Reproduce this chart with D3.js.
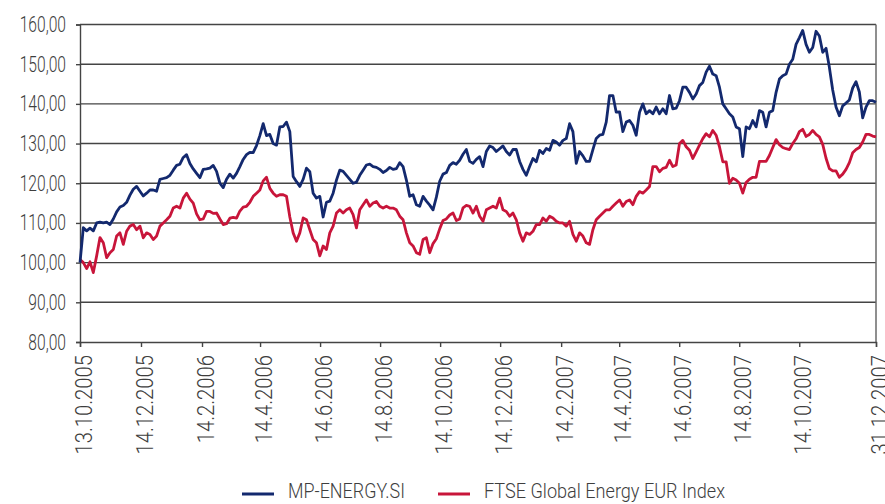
<!DOCTYPE html>
<html>
<head>
<meta charset="utf-8">
<script src="https://cdn.jsdelivr.net/npm/d3@7"></script>
<style>
  html, body { margin: 0; padding: 0; background: #fff; }
  svg { display: block; }
  text { font-family: Roboto, "Liberation Sans", sans-serif; font-weight: 300; fill: #3e3e3e; }
</style>
</head>
<body>
<svg id="chart" width="885" height="504"></svg>
<script>
const mpEnergy = [
  100, 108.8, 108, 108.7, 108, 110, 110.2, 110, 110.2, 109.6,
  111, 112.8, 114, 114.4, 115.2, 117, 118.5, 119.2, 118, 116.8,
  117.5, 118.3, 118.3, 118, 121, 121.2, 121.4, 122, 123.3, 124.5,
  124.8, 126.5, 127.2, 125, 123.6, 122.5, 121.4, 123.5, 123.6, 123.8,
  124.5, 123, 120, 118.9, 121, 122.3, 121.3, 122.5, 124.2, 126,
  127.2, 127.8, 127.7, 129.5, 132, 135, 132, 132.3, 130, 129.6,
  134.2, 134.3, 135.4, 133, 121.7, 120.4, 119.2, 121, 123.8, 122.9,
  117.5, 116.25, 116.7, 111.5, 115.2, 115.5, 117.5, 120.8, 123.3, 123,
  122, 121, 120, 120.3, 122, 123.3, 124.6, 124.8, 124.2, 124,
  123.5, 122.7, 123.2, 124, 123.5, 123.7, 125.2, 124.2, 120.8, 116.7,
  117.1, 114.6, 114.2, 116.7, 115.5, 114.5, 113.3, 116.5, 120.5, 122.3,
  122.7, 124.5, 125.2, 124.8, 125.8, 127.3, 128.5, 125.5, 125, 126,
  126.7, 124.2, 128, 129.4, 129, 128, 128.7, 129.4, 128, 127.1,
  128.5, 128.5, 125.5, 123.5, 122, 124.2, 126.25, 125.4, 128.3, 127.5,
  128.75, 128.3, 130.8, 130.4, 129.6, 130.8, 131.25, 135, 133, 125,
  128, 126.9, 125.5, 125.5, 128.5, 131.3, 132.1, 132.3, 135.4, 142.1,
  142.1, 137.9, 138, 133, 135.4, 135.8, 134.6, 132.1, 137.9, 140,
  137.5, 138.3, 137.5, 139.2, 137.5, 138.75, 137.5, 142.1, 138.75, 138.9,
  140.8, 144.2, 144.2, 142.9, 141.25, 142.5, 144.6, 145.4, 148, 149.5,
  147.5, 147.1, 144.2, 140, 138.75, 137.5, 136.7, 134.2, 133.75, 126.7,
  134.2, 133.75, 135.8, 134.2, 138.3, 137.9, 134.2, 137.9, 138.3, 142.9,
  146.25, 147.1, 147.5, 150, 151.25, 155, 156.7, 158.5, 155, 153,
  154.2, 158.3, 157.1, 153, 154, 149.2, 143.5, 139.2, 137, 139.5,
  140.2, 141, 144, 145.6, 143, 136.5, 139.2, 140.8, 140.8, 140.4
];

const ftseEnergy = [
  100.8, 100, 98.5, 100.2, 97.5, 101.7, 106.3, 105, 101.25, 102.5,
  103.3, 106.7, 107.5, 104.6, 107.9, 109.2, 109.6, 108.3, 109.2, 106.25,
  107.5, 107.1, 105.8, 106.7, 109.2, 110, 110.8, 111.7, 113.75, 114.2,
  113.75, 116.25, 117.5, 116, 115, 112.3, 110.8, 111, 112.9, 112.9,
  112.4, 112.5, 111, 109.6, 109.8, 111.2, 111.4, 111.2, 113, 114,
  114.2, 115.2, 116.7, 117.5, 118.3, 120.6, 121.5, 118.7, 117.5, 116.7,
  117.1, 117.1, 116.7, 111.5, 107.5, 105.4, 107.5, 111.25, 110.8, 108.3,
  105.8, 105, 101.7, 104.2, 103.3, 107.5, 109.2, 112.5, 113.3, 112.5,
  113.3, 113.75, 112.1, 108.75, 113.3, 114.6, 115.8, 114.2, 115, 115.4,
  114.2, 113.75, 114.2, 113.75, 113.75, 113.3, 111.7, 110.8, 107.5, 105,
  104.2, 102.5, 102.1, 105.8, 106.25, 102.5, 104.8, 106, 108.5, 110.6,
  111, 112, 112.5, 110.6, 111, 113.8, 114.4, 114.2, 112.5, 114.2,
  111.7, 110.4, 113.3, 113.75, 114.2, 113.75, 116.25, 113.3, 112.9, 111.7,
  112.5, 110.8, 107.5, 105.4, 107.5, 107.1, 107.9, 109.6, 109.6, 111.25,
  110.4, 111.7, 111.25, 110.4, 110, 110, 109.2, 110.4, 107.1, 105.4,
  107.5, 106.7, 105, 104.6, 108.3, 110.8, 111.7, 112.5, 113.3, 113.3,
  114.2, 115, 115.8, 114.2, 115.4, 115.8, 114.6, 116.7, 117.9, 117.5,
  118.3, 119.2, 124.2, 124.2, 122.9, 123.75, 124, 125.8, 124.2, 124.6,
  130, 130.8, 129.2, 128.3, 126.25, 127.9, 129.6, 131.25, 132.5, 131.7,
  133.3, 132.1, 129.2, 125.4, 125.4, 120, 121.25, 120.8, 120, 117.5,
  120.2, 121, 121.5, 121.5, 125.5, 125.5, 125.5, 127, 129, 131,
  129.7, 129, 128.7, 128.5, 130, 131.2, 133, 133.6, 131.8, 132.3,
  133.3, 132.3, 131.7, 129.8, 126.3, 123.7, 123.1, 123.1, 121.5, 122.3,
  123.5, 125.2, 127.7, 128.5, 129, 130.4, 132.3, 132.3, 131.9, 131.7
];

const seriesNames = ["MP-ENERGY.SI", "FTSE Global Energy EUR Index"];
const seriesColors = ["#13296e", "#c8153a"];

const xTickLabels = [
  "13.10.2005", "14.12.2005", "14.2.2006", "14.4.2006", "14.6.2006",
  "14.8.2006", "14.10.2006", "14.12.2006", "14.2.2007", "14.4.2007",
  "14.6.2007", "14.8.2007", "14.10.2007", "31.12.2007"
];
const yTicks = [80, 90, 100, 110, 120, 130, 140, 150, 160];

const parseDay = d3.timeParse("%d.%m.%Y");
const startDate = parseDay("13.10.2005");
const endDate = parseDay("31.12.2007");

const n = mpEnergy.length;
const dates = d3.range(n).map(i => new Date(+startDate + (endDate - startDate) * i / (n - 1)));

const margin = {left: 80, right: 9, top: 24.5, bottom: 162};
const width = 885, height = 504;

const svg = d3.select("#chart");

const x = d3.scaleTime()
  .domain([startDate, endDate])
  .range([margin.left, width - margin.right]);

const y = d3.scaleLinear()
  .domain([80, 160])
  .range([height - margin.bottom, margin.top]);

const fmt = v => d3.format(".2f")(v).replace(".", ",");

// squeeze text horizontally (the reference uses a condensed face)
function squeeze(sel, k) {
  sel.attr("lengthAdjust", "spacingAndGlyphs")
    .attr("textLength", function() { return this.getComputedTextLength() * k; });
}

// gridlines
svg.append("g")
  .selectAll("line")
  .data(yTicks.filter(d => d > 80))
  .enter()
  .append("line")
  .attr("x1", x.range()[0])
  .attr("x2", x.range()[1])
  .attr("y1", d => y(d))
  .attr("y2", d => y(d))
  .attr("stroke", "#444")
  .attr("stroke-width", 1.4);

// right border
svg.append("line")
  .attr("x1", x.range()[1]).attr("x2", x.range()[1])
  .attr("y1", y(160)).attr("y2", y(80))
  .attr("stroke", "#6a6a6a")
  .attr("stroke-width", 1.5);

// y axis
const yAxis = svg.append("g")
  .attr("transform", `translate(${margin.left},0)`)
  .call(d3.axisLeft(y).tickValues(yTicks).tickFormat(fmt).tickSize(4).tickPadding(10));
yAxis.select(".domain").attr("stroke", "#444").attr("stroke-width", 1.4);
yAxis.selectAll(".tick line").attr("stroke", "#444").attr("stroke-width", 1.4);
yAxis.selectAll(".tick text")
  .attr("font-size", 22)
  .attr("font-family", null)
  .attr("fill", "#3e3e3e")
  .call(squeeze, 0.71);

// x axis
const xTicks = xTickLabels.map(parseDay);
const xAxis = svg.append("g")
  .attr("transform", `translate(0,${y(80)})`)
  .call(d3.axisBottom(x).tickValues(xTicks).tickSize(5).tickFormat((d, i) => xTickLabels[i]));
xAxis.select(".domain").attr("stroke", "#444").attr("stroke-width", 1.4);
xAxis.selectAll(".tick line").attr("stroke", "#444").attr("stroke-width", 1.4);
xAxis.selectAll(".tick text")
  .attr("font-size", 23)
  .attr("font-family", null)
  .attr("fill", "#3e3e3e")
  .attr("text-anchor", "end")
  .attr("transform", "translate(3,13) rotate(-90)")
  .attr("x", 0)
  .attr("y", 0)
  .attr("dy", "0.35em")
  .call(squeeze, 0.88);

// lines
const allSeries = [mpEnergy, ftseEnergy];
const line = d3.line()
  .x((d, i) => x(dates[i]))
  .y(d => y(d));

svg.append("g")
  .selectAll("path")
  .data(allSeries.slice().reverse())
  .enter()
  .append("path")
  .attr("d", d => line(d))
  .attr("fill", "none")
  .attr("stroke", (d, i) => seriesColors[allSeries.length - 1 - i])
  .attr("stroke-width", 2.8)
  .attr("stroke-linejoin", "round");

// legend
const legendX = [242, 438];
const legendTextWidth = [117, 241];
const legend = svg.append("g")
  .selectAll("g")
  .data(seriesNames)
  .enter()
  .append("g")
  .attr("transform", (d, i) => `translate(${legendX[i]},0)`);

legend.append("line")
  .attr("x1", 0).attr("x2", 32)
  .attr("y1", 494).attr("y2", 494)
  .attr("stroke", (d, i) => seriesColors[i])
  .attr("stroke-width", 3);

legend.append("text")
  .attr("x", 46)
  .attr("y", 498)
  .attr("font-size", 21)
  .attr("lengthAdjust", "spacingAndGlyphs")
  .attr("textLength", (d, i) => legendTextWidth[i])
  .text(d => d);
</script>
</body>
</html>
